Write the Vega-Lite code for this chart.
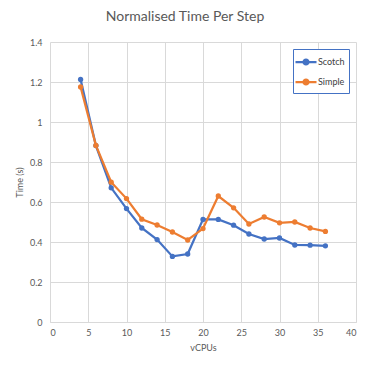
{
  "$schema": "https://vega.github.io/schema/vega-lite/v6.json",
  "width": 306,
  "height": 280,
  "autosize": {"type": "none"},
  "padding": {"left": 50, "top": 42, "right": 14, "bottom": 48},
  "background": "white",
  "title": {
    "text": "Normalised Time Per Step",
    "font": "Lato",
    "fontSize": 14,
    "fontWeight": "normal",
    "color": "#595959",
    "offset": 14,
    "dx": -18
  },
  "data": {
    "values": [
      {"vcpus": 4, "series": "Scotch", "time": 1.213},
      {"vcpus": 6, "series": "Scotch", "time": 0.882},
      {"vcpus": 8, "series": "Scotch", "time": 0.671},
      {"vcpus": 10, "series": "Scotch", "time": 0.567},
      {"vcpus": 12, "series": "Scotch", "time": 0.47},
      {"vcpus": 14, "series": "Scotch", "time": 0.412},
      {"vcpus": 16, "series": "Scotch", "time": 0.328},
      {"vcpus": 18, "series": "Scotch", "time": 0.34},
      {"vcpus": 20, "series": "Scotch", "time": 0.513},
      {"vcpus": 22, "series": "Scotch", "time": 0.513},
      {"vcpus": 24, "series": "Scotch", "time": 0.484},
      {"vcpus": 26, "series": "Scotch", "time": 0.44},
      {"vcpus": 28, "series": "Scotch", "time": 0.415},
      {"vcpus": 30, "series": "Scotch", "time": 0.42},
      {"vcpus": 32, "series": "Scotch", "time": 0.385},
      {"vcpus": 34, "series": "Scotch", "time": 0.384},
      {"vcpus": 36, "series": "Scotch", "time": 0.381},
      {"vcpus": 4, "series": "Simple", "time": 1.175},
      {"vcpus": 6, "series": "Simple", "time": 0.883},
      {"vcpus": 8, "series": "Simple", "time": 0.699},
      {"vcpus": 10, "series": "Simple", "time": 0.617},
      {"vcpus": 12, "series": "Simple", "time": 0.514},
      {"vcpus": 14, "series": "Simple", "time": 0.485},
      {"vcpus": 16, "series": "Simple", "time": 0.45},
      {"vcpus": 18, "series": "Simple", "time": 0.41},
      {"vcpus": 20, "series": "Simple", "time": 0.467},
      {"vcpus": 22, "series": "Simple", "time": 0.63},
      {"vcpus": 24, "series": "Simple", "time": 0.571},
      {"vcpus": 26, "series": "Simple", "time": 0.49},
      {"vcpus": 28, "series": "Simple", "time": 0.525},
      {"vcpus": 30, "series": "Simple", "time": 0.496},
      {"vcpus": 32, "series": "Simple", "time": 0.5},
      {"vcpus": 34, "series": "Simple", "time": 0.47},
      {"vcpus": 36, "series": "Simple", "time": 0.453}
    ]
  },
  "mark": {"type": "line", "strokeWidth": 2.25, "point": {"size": 28, "filled": true, "opacity": 1}},
  "encoding": {
    "x": {
      "field": "vcpus", "type": "quantitative", "title": "vCPUs",
      "scale": {"domain": [0, 40], "nice": false},
      "axis": {"values": [0, 5, 10, 15, 20, 25, 30, 35, 40], "grid": true, "ticks": false, "domain": true, "labelPadding": 6, "titlePadding": 6}
    },
    "y": {
      "field": "time", "type": "quantitative", "title": "Time (s)",
      "scale": {"domain": [0, 1.4], "nice": false},
      "axis": {"values": [0, 0.2, 0.4, 0.6, 0.8, 1, 1.2, 1.4], "grid": true, "ticks": false, "domain": false, "labelPadding": 8, "titlePadding": 5,
        "labelExpr": "datum.value == 0 ? '0' : datum.value == 1 ? '1' : format(datum.value, '.1f')"}
    },
    "color": {
      "field": "series", "type": "nominal",
      "scale": {"domain": ["Scotch", "Simple"], "range": ["#4472C4", "#ED7D31"]},
      "legend": {
        "title": null,
        "orient": "none",
        "legendX": 243,
        "legendY": 7,
        "fillColor": "white",
        "strokeColor": "#4472C4",
        "padding": 4,
        "rowPadding": 4,
        "symbolType": "M-1.4,0L1.4,0M0.33,0A0.33,0.33 0 1 1 -0.33,0A0.33,0.33 0 1 1 0.33,0Z",
        "symbolSize": 225,
        "symbolStrokeWidth": 2.25,
        "labelFont": "Lato",
        "labelFontSize": 9,
        "labelColor": "#404040",
        "labelOffset": 3,
        "encode": {"symbols": {"update": {"fill": {"scale": "color", "field": "value"}, "fillOpacity": {"value": 1}}}}
      }
    }
  },
  "config": {
    "view": {"stroke": null},
    "axis": {
      "labelFont": "Lato", "labelFontSize": 9, "labelColor": "#595959",
      "titleFont": "Lato", "titleFontSize": 9, "titleFontWeight": "normal", "titleColor": "#595959",
      "gridColor": "#d9d9d9", "gridWidth": 1, "gridOpacity": 1,
      "domainColor": "#d9d9d9", "domainWidth": 1
    }
  }
}
